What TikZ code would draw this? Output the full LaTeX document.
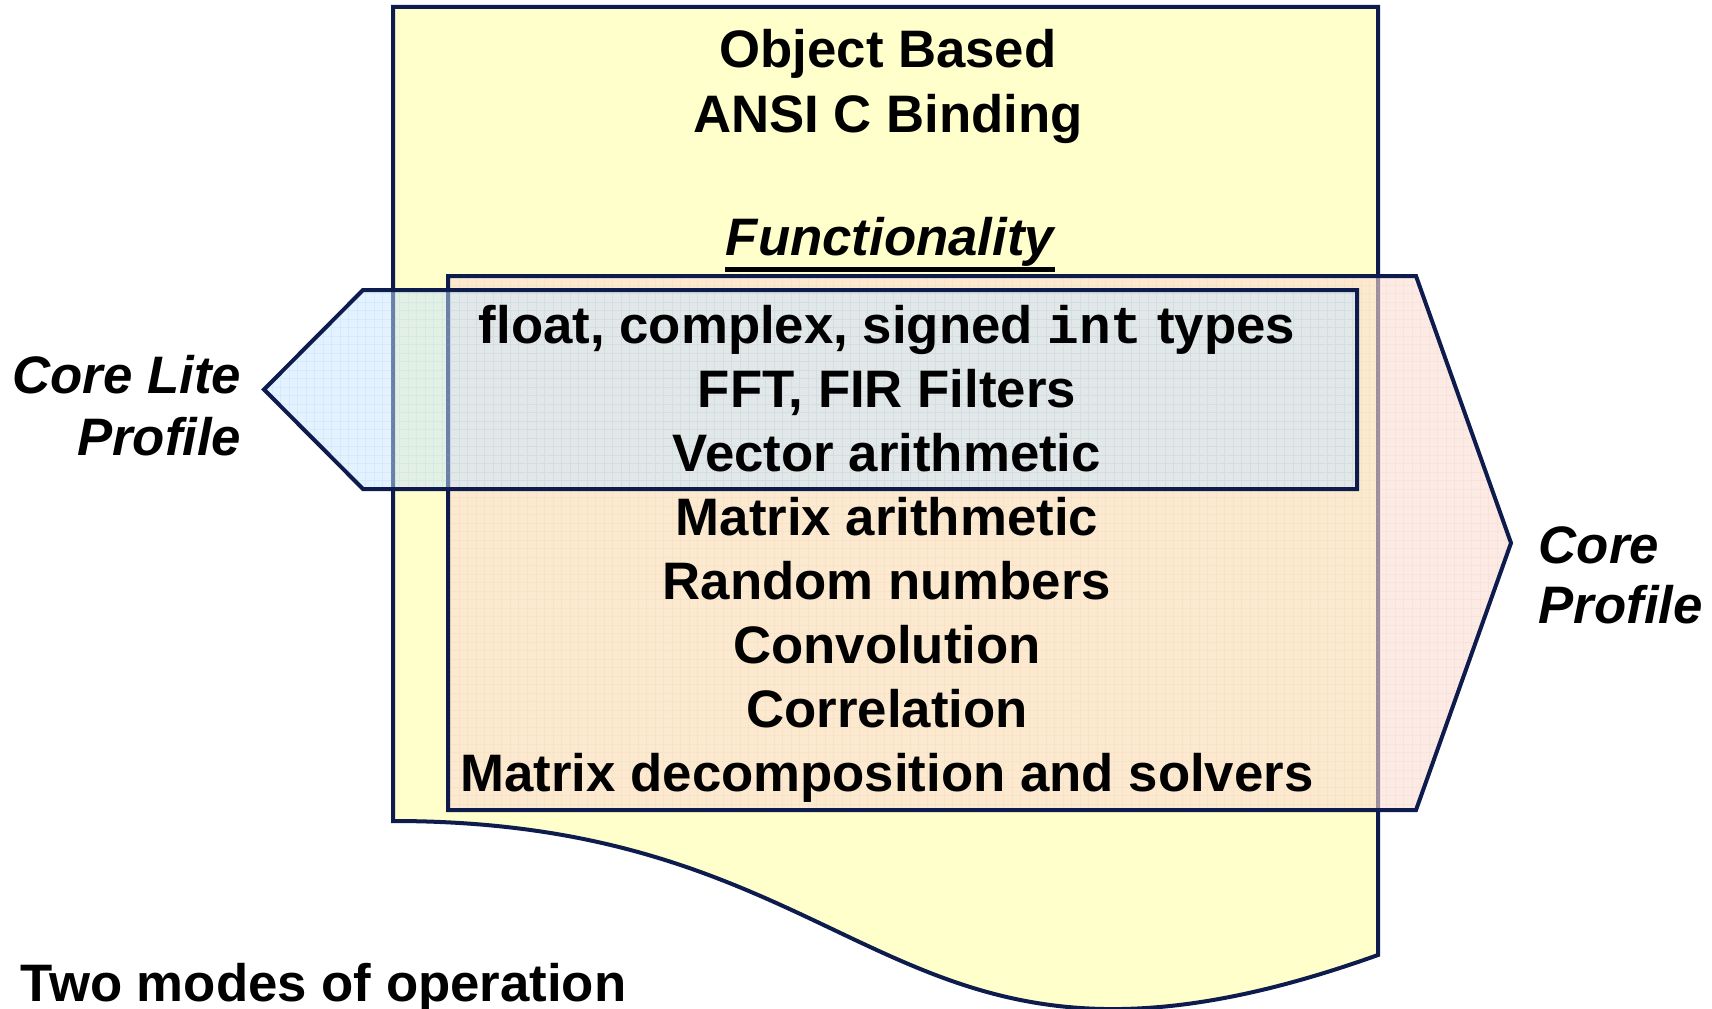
\documentclass[tikz,border=0pt]{standalone}
\usepackage{fontspec}
\setmainfont{Liberation Sans}
\setmonofont{Liberation Mono}
\usetikzlibrary{positioning}
\definecolor{cNavy}{RGB}{13,27,77}
\definecolor{cFillYellow}{RGB}{255,255,204}
\definecolor{cFillPeach}{RGB}{250,220,212}
\definecolor{cFillSky}{RGB}{201,229,255}
\definecolor{cGridPeach}{RGB}{235,170,150}
\definecolor{cGridSky}{RGB}{120,180,240}
\newcommand{\slidefont}{\fontsize{15}{18}\selectfont}
\tikzset{
  %% outlines and fills
  outline/.style={draw=cNavy, line width=0.04cm, line join=miter},
  docshape/.style={outline, fill=cFillYellow},
  corefill/.style={fill=cFillPeach, fill opacity=0.6},
  litefill/.style={fill=cFillSky, fill opacity=0.5},
  gridline/.style={step=0.085cm, line width=0.2pt, draw=#1, opacity=0.12},
  %% texts
  bodytxt/.style={font=\bfseries\slidefont, anchor=base, inner sep=0pt},
  proftxt/.style={bodytxt, font=\bfseries\itshape\slidefont},
}

\begin{document}
\begin{tikzpicture}[x=0.01cm, y=0.01cm]
\useasboundingbox (0,0) rectangle (1712,1008);

%% ============================================================
%%  Document sheet (wavy bottom edge)
%% ============================================================
\draw[docshape] (393,187) -- (393,1001) -- (1378,1001) -- (1378,53)
  .. controls (885.5,-123) and (885.5,187) .. (393,187) -- cycle;

%% ============================================================
%%  Core profile (points right)
%% ============================================================
\coordinate (corNW)  at (448,732);
\coordinate (corNE)  at (1416,732);
\coordinate (corTip) at (1511,465);
\coordinate (corSE)  at (1416,198);
\coordinate (corSW)  at (448,198);
\fill[corefill] (corNW) -- (corNE) -- (corTip) -- (corSE) -- (corSW) -- cycle;
\begin{scope}
  \clip (corNW) -- (corNE) -- (corTip) -- (corSE) -- (corSW) -- cycle;
  \draw[gridline=cGridPeach] (440,190) grid (1520,740);
\end{scope}
\draw[outline] (corNW) -- (corNE) -- (corTip) -- (corSE) -- (corSW) -- cycle;

%% ============================================================
%%  Core Lite profile (points left)
%% ============================================================
\coordinate (litNE)  at (1357,718);
\coordinate (litNW)  at (363,718);
\coordinate (litTip) at (264,618.5);
\coordinate (litSW)  at (363,519);
\coordinate (litSE)  at (1357,519);
\fill[litefill] (litNE) -- (litNW) -- (litTip) -- (litSW) -- (litSE) -- cycle;
\begin{scope}
  \clip (litNE) -- (litNW) -- (litTip) -- (litSW) -- (litSE) -- cycle;
  \draw[gridline=cGridSky] (260,515) grid (1360,722);
\end{scope}
\draw[outline] (litNE) -- (litNW) -- (litTip) -- (litSW) -- (litSE) -- cycle;

%% ============================================================
%%  Heading
%% ============================================================
\node[bodytxt] (objbased) at (888,940) {Object Based};
\node[bodytxt] (ansic)    at (888,876) {ANSI C Binding};
\node[proftxt] (func)     at (890,753) {Functionality};
\draw[line width=0.05cm] ([yshift=-0.14cm]func.base west) -- ([yshift=-0.14cm]func.base east);

%% ============================================================
%%  Function list
%% ============================================================
\foreach \txt [count=\i] in {{float, complex, signed \texttt{int} types},
    {FFT, FIR Filters}, {Vector arithmetic}, {Matrix arithmetic},
    {Random numbers}, {Convolution}, {Correlation},
    {Matrix decomposition and solvers}} {
  \node[bodytxt] (item\i) at (887,{729-64*\i}) {\txt};
}

%% ============================================================
%%  Profile names
%% ============================================================
\node[proftxt, anchor=base east] (liteA) at (242,615) {Core Lite};
\node[proftxt, anchor=base east] (liteB) at (242,553) {Profile};
\node[proftxt, anchor=base west] (coreA) at (1538,445) {Core};
\node[proftxt, anchor=base west] (coreB) at (1538,385) {Profile};

%% footer
\node[bodytxt, anchor=base west] (modes) at (20,7) {Two modes of operation};

\end{tikzpicture}
\end{document}
